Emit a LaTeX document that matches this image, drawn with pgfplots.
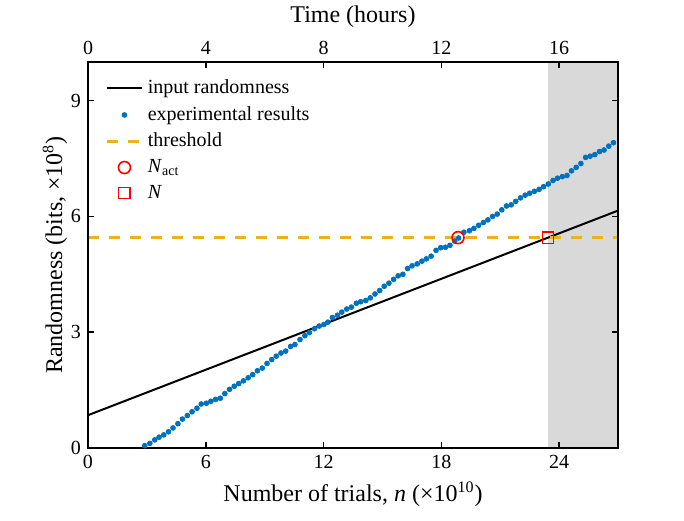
\documentclass[border=0pt]{standalone}
\usepackage{fontspec}
\setmainfont{Liberation Serif}
\usepackage{pgfplots}
\pgfplotsset{compat=1.18}
\definecolor{mblue}{RGB}{0,114,189}
\definecolor{morange}{RGB}{237,177,32}
\definecolor{shade}{RGB}{217,217,217}
\begin{document}
\begin{tikzpicture}
\useasboundingbox (-44pt,-36pt) rectangle (298pt,224pt);
\begin{axis}[
  at={(0,0)}, anchor=south west, scale only axis,
  width=265pt, height=193pt,
  xmin=0, xmax=27, ymin=0, ymax=10,
  xtick={0,6,12,18,24}, ytick={0,3,6,9},
  xtick pos=bottom, ytick pos=both,
  tick align=inside, major tick length=3pt,
  axis line style={line width=0.8pt},
  every tick/.style={black, line width=0.8pt},
  /pgf/number format/assume math mode=true,
  tick label style={font=\normalsize},
  xlabel={Number of trials, \textit{n} (×10\textsuperscript{10})},
  ylabel={Randomness (bits, ×10\textsuperscript{8})},
  ylabel shift=-5pt,
  label style={font=\large},
  axis on top,
  legend cell align=left,
  legend style={draw=none, fill=none, at={(0.022,0.975)}, anchor=north west, font=\normalsize, row sep=0.8pt,
    nodes={inner xsep=2.5pt}},
]
\addplot[fill=shade, draw=none, forget plot] coordinates {(23.42,0) (27,0) (27,10) (23.42,10)} -- cycle;
\addplot[black, line width=1pt] coordinates {(0,0.85) (27,6.15)};
\addlegendentry{input randomness}
\addplot[only marks, mark=*, mark size=1.2pt, color=mblue] coordinates {
(2.89,0.06)(3.15,0.12)(3.40,0.21)(3.62,0.28)(3.86,0.34)(4.10,0.42)(4.33,0.52)(4.58,0.63)(4.81,0.75)(5.06,0.84)(5.30,0.94)(5.55,1.03)(5.77,1.14)(6.03,1.16)(6.26,1.21)(6.50,1.26)(6.74,1.29)(6.97,1.41)(7.21,1.52)(7.45,1.60)(7.68,1.67)(7.92,1.74)(8.16,1.82)(8.39,1.90)(8.63,2.00)(8.88,2.07)(9.12,2.19)(9.36,2.29)(9.59,2.38)(9.83,2.46)(10.07,2.51)(10.32,2.63)(10.54,2.68)(10.80,2.81)(11.05,2.91)(11.28,2.99)(11.54,3.09)(11.78,3.16)(12.02,3.20)(12.22,3.26)(12.45,3.38)(12.71,3.44)(12.93,3.52)(13.18,3.60)(13.42,3.65)(13.67,3.75)(13.89,3.79)(14.15,3.82)(14.38,3.89)(14.62,3.99)(14.86,4.08)(15.09,4.19)(15.33,4.27)(15.57,4.37)(15.80,4.46)(16.04,4.50)(16.28,4.65)(16.51,4.72)(16.77,4.77)(17.01,4.84)(17.24,4.90)(17.48,4.97)(17.73,5.12)(17.97,5.19)(18.21,5.20)(18.44,5.25)(18.68,5.36)(18.88,5.44)(19.15,5.59)(19.43,5.63)(19.66,5.69)(19.90,5.77)(20.14,5.84)(20.37,5.91)(20.61,6.00)(20.85,6.06)(21.08,6.17)(21.32,6.27)(21.56,6.30)(21.79,6.39)(22.03,6.48)(22.27,6.55)(22.50,6.60)(22.74,6.65)(22.98,6.70)(23.21,6.77)(23.45,6.84)(23.69,6.93)(23.92,6.99)(24.16,7.03)(24.40,7.06)(24.63,7.18)(24.87,7.27)(25.11,7.37)(25.35,7.53)(25.58,7.56)(25.82,7.60)(26.06,7.68)(26.29,7.72)(26.53,7.82)(26.77,7.91)
};
\addlegendentry{experimental results}
\addplot[morange, line width=1.3pt, dash pattern=on 5.3pt off 5.2pt] coordinates {(0,5.45) (27,5.45)};
\addlegendentry{threshold}
\addplot[only marks, mark=o, mark size=3pt, red, line width=0.8pt] coordinates {(18.85,5.45)};
\addlegendentry{\textit{N}\textsubscript{act}}
\addplot[only marks, mark=square, mark size=2.8pt, red, line width=0.6pt] coordinates {(23.42,5.45)};
\addlegendentry{\textit{N}}
\end{axis}
\begin{axis}[
  at={(0,0)}, anchor=south west, scale only axis,
  width=265pt, height=193pt,
  xmin=0, xmax=18, ymin=0, ymax=10,
  axis x line*=top, axis y line=none,
  xtick={0,4,8,12,16},
  tick align=inside, major tick length=3pt,
  axis line style={line width=0.8pt, -},
  every tick/.style={black, line width=0.8pt},
  /pgf/number format/assume math mode=true,
  tick label style={font=\normalsize},
  xlabel={Time (hours)},
  label style={font=\large},
]
\end{axis}
\end{tikzpicture}
\end{document}
